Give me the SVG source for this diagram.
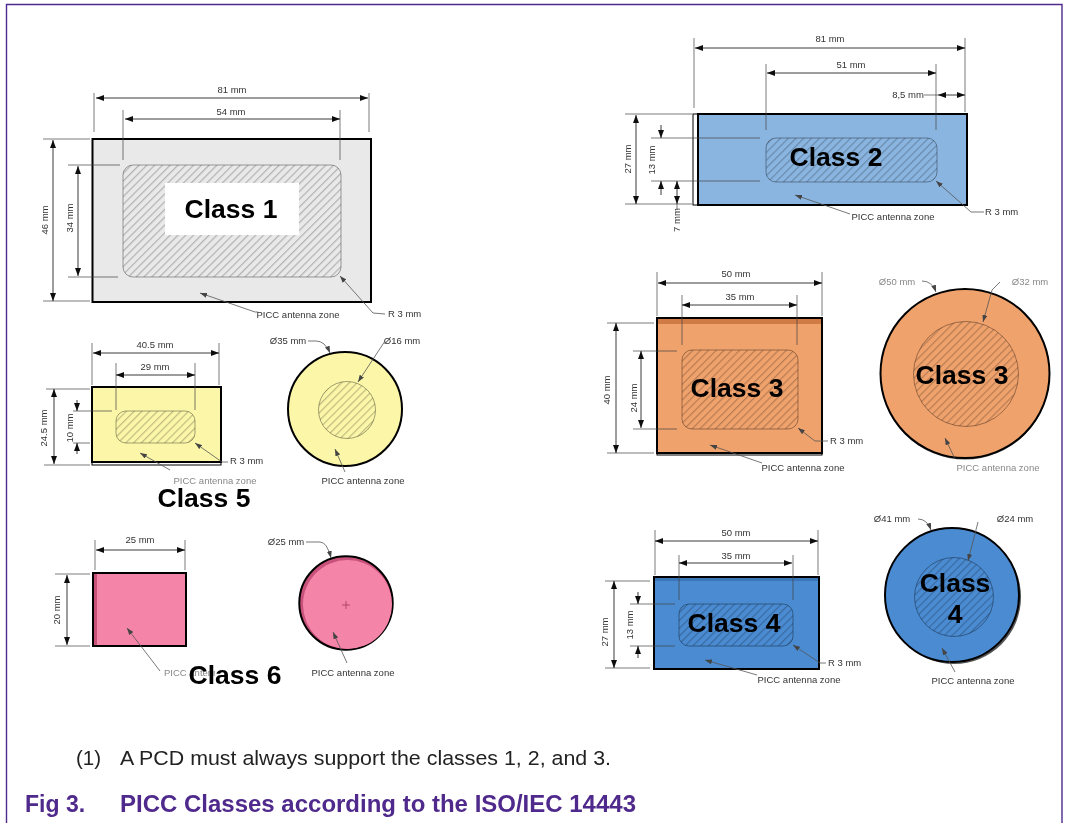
<svg xmlns="http://www.w3.org/2000/svg" width="1066" height="823" viewBox="0 0 1066 823">
<style>
text{font-family:"Liberation Sans",Arial,sans-serif}
.t{font-size:9.5px;fill:#333;text-anchor:middle}
.g{fill:#888}
.s{text-anchor:start}
.c{font-size:26.5px;font-weight:bold;fill:#000;text-anchor:middle}
.b{stroke:#000;stroke-width:2}
.h{fill:url(#hatch);stroke:#000;stroke-opacity:.35;stroke-width:1}
.e{fill:none;stroke:#444;stroke-width:.7}
.a{fill:none;stroke:#222;stroke-width:.9;marker-start:url(#ar);marker-end:url(#ar)}
.m{fill:none;stroke:#222;stroke-width:.9;marker-end:url(#ar)}
.l{fill:none;stroke:#555;stroke-width:.8;marker-start:url(#lr)}
.y1{fill:#e9e9e9}.y2{fill:#8ab5e0}.y3{fill:#f0a26c}.y4{fill:#4a8bd2}.y5{fill:#fbf6a8}.y6{fill:#f585a8}
</style>
<defs>
<pattern id="hatch" width="5.5" height="5.5" patternUnits="userSpaceOnUse" patternTransform="rotate(-45)"><rect width="5.5" height="1.2" fill="#000" fill-opacity=".24"/></pattern>
<marker id="ar" viewBox="0 0 8 6" refX="8" refY="3" markerWidth="8" markerHeight="6" markerUnits="userSpaceOnUse" orient="auto-start-reverse"><path d="M0 0L8 3L0 6Z" fill="#111"/></marker>
<marker id="lr" viewBox="0 0 7 5" refX="0" refY="2.5" markerWidth="7" markerHeight="5" markerUnits="userSpaceOnUse" orient="auto"><path d="M7 0L0 2.5L7 5Z" fill="#444"/></marker>
<filter id="soft" filterUnits="userSpaceOnUse" x="0" y="0" width="1066" height="823"><feGaussianBlur stdDeviation=".65"/></filter>
<filter id="soft2" filterUnits="userSpaceOnUse" x="0" y="0" width="1066" height="823"><feGaussianBlur stdDeviation=".3"/></filter>
</defs>
<rect width="1066" height="823" fill="#fff"/>
<path id="frame" d="M6.5 823V4.5H1062V823" fill="none" stroke="#4f2a8c" stroke-width="1.4"/>

<g id="class1-card">
<rect class="y1 b" x="92.5" y="139" width="278.5" height="163"/>
<rect class="h" x="123" y="165" width="218" height="112" rx="10"/>
<rect x="165" y="183" width="134" height="52" fill="#fff"/>
<g filter="url(#soft)">
<text class="t" x="232" y="93">81 mm</text><text class="t" x="231" y="115">54 mm</text>
<text class="t" transform="translate(48 220) rotate(-90)">46 mm</text><text class="t" transform="translate(73 218) rotate(-90)">34 mm</text>
<text class="t" x="298" y="318">PICC antenna zone</text><text class="t s" x="388" y="317">R 3 mm</text>
</g></g>

<g id="class5-card">
<rect x="92" y="387" width="129" height="78" fill="#fff" stroke="#000"/>
<rect class="y5 b" x="92" y="387" width="129" height="75"/>
<rect class="h" x="116" y="411" width="79" height="32" rx="10"/>
<g filter="url(#soft)">
<text class="t" x="155" y="348">40.5 mm</text><text class="t" x="155" y="370">29 mm</text>
<text class="t" transform="translate(47 428) rotate(-90)">24.5 mm</text><text class="t" transform="translate(73 428) rotate(-90)">10 mm</text>
<text class="t s" x="230" y="464">R 3 mm</text><text class="t g" x="215" y="484">PICC antenna zone</text>
</g></g>

<g id="class5-disc">
<circle class="y5 b" cx="345" cy="409" r="57"/>
<circle class="h" cx="347" cy="410" r="28.5"/>
<g filter="url(#soft)">
<text class="t" x="288" y="344">Ø35 mm</text><text class="t" x="402" y="344">Ø16 mm</text>
<text class="t" x="363" y="484">PICC antenna zone</text>
</g></g>

<g id="class6-card">
<rect class="y6" x="93" y="573" width="93" height="73"/>
<rect x="93" y="574" width="4" height="71" fill="#c8527c"/>
<rect x="93" y="573" width="93" height="73" fill="none" class="b"/>
<g filter="url(#soft2)">
<text class="t" x="140" y="543">25 mm</text>
<text class="t" transform="translate(60 610) rotate(-90)">20 mm</text>
<text class="t s g" x="164" y="676">PICC antenna zone</text>
</g></g>

<g id="class6-disc">
<circle cx="346" cy="603" r="46.7" fill="#c8527c" class="b"/>
<circle class="y6" cx="347.5" cy="604.5" r="44.5"/>
<path d="M342 605H350M346 601V609" stroke="#a03a60" stroke-width=".8"/>
<g filter="url(#soft2)">
<text class="t" x="286" y="545">Ø25 mm</text>
<text class="t" x="353" y="676">PICC antenna zone</text>
</g></g>

<g id="class2-card">
<rect x="693" y="114" width="10" height="91" fill="#fff" stroke="#000" stroke-width="1"/>
<rect class="y2 b" x="698" y="114" width="269" height="91"/>
<rect class="h" x="766" y="138" width="171" height="44" rx="10"/>
<g filter="url(#soft2)">
<text class="t" x="830" y="42">81 mm</text><text class="t" x="851" y="68">51 mm</text><text class="t" x="908" y="98">8,5 mm</text>
<text class="t" transform="translate(631 159) rotate(-90)">27 mm</text><text class="t" transform="translate(655 160) rotate(-90)">13 mm</text><text class="t" transform="translate(680 220) rotate(-90)">7 mm</text>
<text class="t" x="893" y="220">PICC antenna zone</text><text class="t s" x="985" y="215">R 3 mm</text>
</g></g>

<g id="class3-card">
<rect x="657" y="318" width="165" height="137" fill="#fff" stroke="#000"/>
<rect class="y3 b" x="657" y="318" width="165" height="135"/>
<rect x="658" y="319" width="163" height="5" fill="#d07a45"/>
<rect class="h" x="682" y="350" width="116" height="79" rx="10"/>
<g filter="url(#soft)">
<text class="t" x="736" y="277">50 mm</text><text class="t" x="740" y="300">35 mm</text>
<text class="t" transform="translate(610 390) rotate(-90)">40 mm</text><text class="t" transform="translate(637 398) rotate(-90)">24 mm</text>
<text class="t s" x="830" y="444">R 3 mm</text><text class="t" x="803" y="471">PICC antenna zone</text>
</g></g>

<g id="class3-disc">
<circle cx="965" cy="375" r="84.5" fill="#555"/>
<circle class="y3 b" cx="965" cy="373.5" r="84.5"/>
<circle class="h" cx="966" cy="374" r="52.5"/>
<g filter="url(#soft)">
<text class="t g" x="897" y="285">Ø50 mm</text><text class="t g" x="1030" y="285">Ø32 mm</text>
<text class="t g" x="998" y="471">PICC antenna zone</text>
</g></g>

<g id="class4-card">
<rect class="y4 b" x="654" y="577" width="165" height="92"/>
<rect x="655" y="578" width="163" height="3" fill="#3a76b8"/>
<rect class="h" x="679" y="604" width="114" height="42" rx="10"/>
<g filter="url(#soft)">
<text class="t" x="736" y="536">50 mm</text><text class="t" x="736" y="559">35 mm</text>
<text class="t" transform="translate(608 632) rotate(-90)">27 mm</text><text class="t" transform="translate(633 625) rotate(-90)">13 mm</text>
<text class="t s" x="828" y="666">R 3 mm</text><text class="t" x="799" y="683">PICC antenna zone</text>
</g></g>

<g id="class4-disc">
<circle cx="954" cy="597" r="67" fill="#555"/>
<circle class="y4 b" cx="952" cy="595" r="67"/>
<circle class="h" cx="954" cy="597" r="39.5"/>
<g filter="url(#soft)">
<text class="t" x="892" y="522">Ø41 mm</text><text class="t" x="1015" y="522">Ø24 mm</text>
<text class="t" x="973" y="684">PICC antenna zone</text>
</g></g>

<g id="connectors">
<g filter="url(#soft)">
<path class="e" d="M94 93V132M369 93V132M123 110V160M340 110V160M43 139H90M43 301H90M68 165H120M68 277H118"/>
<path class="a" d="M96 98H368"/><path class="a" d="M125 119H340"/><path class="a" d="M53 140V301"/><path class="a" d="M78 166V276"/>
<path class="l" d="M200 293L255 312L258 312"/><path class="l" d="M340 276L373 313L385 314"/>

<path class="e" d="M92 343V385M219 343V385M116 363V410M195 363V410M46 389H90M44 465H90M73 411H112M73 443H90"/>
<path class="a" d="M93 353H219"/><path class="a" d="M116 375H195"/><path class="a" d="M54 389V464"/>
<path class="m" d="M77 400V411"/><path class="m" d="M77 454V443"/>
<path class="l" d="M195 443L222 462L228 462"/><path class="l" d="M140 453L170 470"/>
<path class="l" d="M330 353Q325 341 316 341H308"/><path class="l" d="M358 382L385 341"/><path class="l" d="M335 449L345 472"/>

<path class="e" d="M657 272V316M822 272V316M682 295V345M797 295V345M607 323H654M607 453H654M633 351H677M633 429H677"/>
<path class="a" d="M658 283H822"/><path class="a" d="M682 305H797"/><path class="a" d="M616 323V453"/><path class="a" d="M641 351V428"/>
<path class="l" d="M798 428L815 441H828"/><path class="l" d="M710 445L762 463"/>
<path class="l" d="M936 292Q932 281 922 281"/><path class="l" d="M983 322L992 290L1000 282"/><path class="l" d="M945 438L955 459"/>

<path class="e" d="M655 530V575M818 530V575M679 555V600M793 555V600M605 581H650M605 668H650M630 604H675M630 646H675"/>
<path class="a" d="M655 541H818"/><path class="a" d="M679 563H792"/><path class="a" d="M614 581V668"/>
<path class="m" d="M638 592V604"/><path class="m" d="M638 658V646"/>
<path class="l" d="M793 645L820 663H826"/><path class="l" d="M705 660L757 675"/>
<path class="l" d="M931 530Q927 519 918 519"/><path class="l" d="M968 561L978 522"/><path class="l" d="M942 648L955 672"/>
</g>
<g filter="url(#soft2)">
<path class="e" d="M694 38V108M965 38V112M766 64V130M936 64V130M625 114H692M625 204H692M651 138H760M651 181H760"/>
<path class="a" d="M695 48H965"/><path class="a" d="M767 73H936"/><path class="a" d="M938 95H965"/><path class="e" d="M924 95H938"/><path class="a" d="M636 115V204"/>
<path class="m" d="M661 125V138"/><path class="m" d="M661 195V181"/><path class="m" d="M677 192V181"/><path class="m" d="M677 192V204"/><path class="e" d="M677 204V210"/>
<path class="l" d="M795 195L850 214"/><path class="l" d="M936 181L971 212H984"/>

<path class="e" d="M95 540V570M185 540V570M55 574H90M55 646H90"/>
<path class="a" d="M96 550H185"/><path class="a" d="M67 575V645"/>
<path class="l" d="M127 628L160 671"/>
<path class="l" d="M331 558Q327 542 320 542H306"/><path class="l" d="M333 632L347 663"/>
</g>
</g>

<g id="labels">
<text class="c" x="231" y="218">Class 1</text>
<text class="c" x="836" y="166">Class 2</text>
<text class="c" x="737" y="397">Class 3</text>
<text class="c" x="962" y="384">Class 3</text>
<text class="c" x="734" y="632">Class 4</text>
<text class="c" x="955" y="592">Class</text>
<text class="c" x="955" y="623">4</text>
<text class="c" x="204" y="507">Class 5</text>
<rect x="215" y="660" width="69" height="30" fill="#fff"/>
<text class="c" x="235" y="684">Class 6</text>
</g>

<g id="caption">
<text x="76" y="765" font-size="20.5" fill="#222">(1)</text>
<text x="120" y="765" font-size="20.5" fill="#222" textLength="491" lengthAdjust="spacingAndGlyphs">A PCD must always support the classes 1, 2, and 3.</text>
<text x="25" y="812" font-size="23" font-weight="bold" fill="#4f2a8c">Fig 3.</text>
<text x="120" y="812" font-size="23" font-weight="bold" fill="#4f2a8c" textLength="516" lengthAdjust="spacingAndGlyphs">PICC Classes according to the ISO/IEC 14443</text>
</g>
</svg>
